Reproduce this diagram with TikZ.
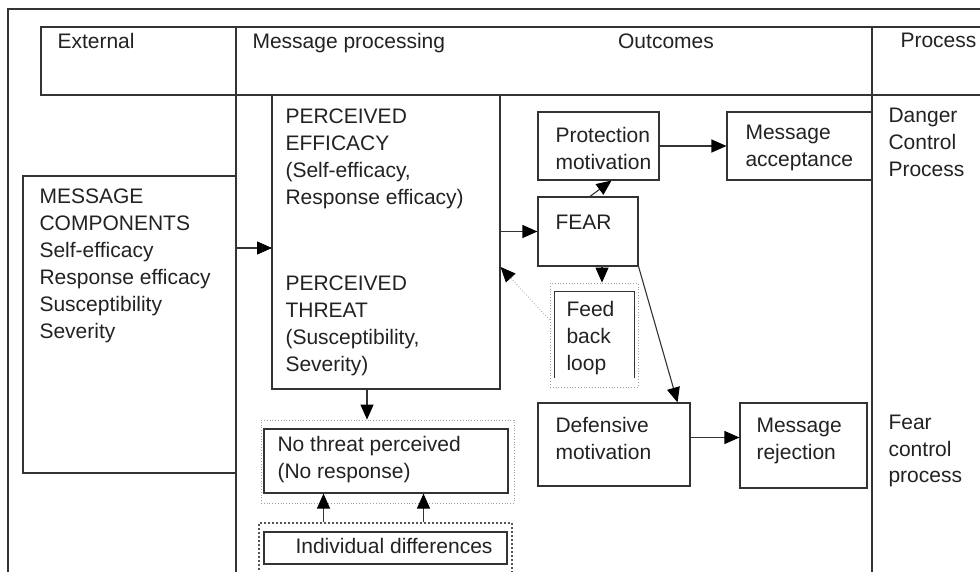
\documentclass[tikz,border=0pt]{standalone}
\usepackage{fontspec}
\setmainfont{Liberation Sans}
\usepackage{xcolor}
\definecolor{inkgrey}{HTML}{222222}
\definecolor{linegrey}{HTML}{333333}
\definecolor{dotgrey}{HTML}{A0A0A0}
\definecolor{dotdark}{HTML}{555555}
\usetikzlibrary{positioning,fit,calc,arrows.meta}

\begin{document}
\begin{tikzpicture}[x=1pt, y=-1pt, line width=1.1pt, draw=linegrey,
		box/.style={draw=linegrey, inner sep=0pt},
		txt/.style={anchor=north west, align=left, inner sep=0pt, text=inkgrey, font=\fontsize{21}{27}\selectfont},
		arr/.style={-{Triangle[length=15pt,width=13pt,color=black]}},
		faint/.style={draw=dotgrey, dotted, line width=0.8pt, inner sep=0pt},
		heavydots/.style={draw=dotdark, line width=2pt, dash pattern=on 2pt off 2pt, inner sep=0pt}]
			\path[use as bounding box, clip] (0,0) rectangle (980,572);
			% frame and header
			\draw (8,600) -- (8,9) -- (1000,9);
			\draw (1000,27) -- (41,27) -- (41,95) -- (1000,95);
			\draw (236,27) -- (236,600);
			\draw (872,27) -- (872,600);
			\node[txt] (h-ext) at (57,33) {External};
			\node[txt] (h-msg) at (252,33) {Message processing};
			\node[txt, anchor=north] (h-out) at (666,33) {Outcomes};
			\node[txt] (h-proc) at (900,33) {Process};
			% boxes
			\node[box, fit={(23,176) (236,473)}] (mc) {};
			\node[box, fit={(272,95) (500,389)}] (pe) {};
			\node[box, fit={(538,112) (659,180)}] (prot) {};
			\node[box, fit={(727,112) (872,180)}] (acc) {};
			\node[box, fit={(538,197) (638,266)}] (fear) {};
			\node[faint, fit={(550,283) (638,387)}] (fb) {};
			\node[inner sep=0pt, fit={(555,292) (634,377)}] (fb-in) {};
			\draw (fb-in.south west) -- (fb-in.north west) -- (fb-in.north east) -- (fb-in.south east);
			\node[box, fit={(538,403) (690,486)}] (def) {};
			\node[box, fit={(740,403) (867,488)}] (rej) {};
			\node[faint, fit={(261,420) (514,503)}] (nt-out) {};
			\node[box, fit={(264,429) (508,493)}] (nt) {};
			\node[heavydots, fit={(259,523) (512,600)}] (ind-out) {};
			\node[box, fit={(264,532) (507,564)}] (ind) {};
			% texts
			\node[txt] (mc-t) at (39,188) {MESSAGE\\COMPONENTS\\Self-efficacy\\Response efficacy\\Susceptibility\\Severity};
			\node[txt] (pe-t) at (285,108) {PERCEIVED\\EFFICACY\\(Self-efficacy,\\Response efficacy)};
			\node[txt] (pt-t) at (285,275) {PERCEIVED\\THREAT\\(Susceptibility,\\Severity)};
			\node[txt] (prot-t) at (555,127) {Protection\\motivation};
			\node[txt] (acc-t) at (745,125) {Message\\acceptance};
			\node[txt] (fear-t) at (555,215) {FEAR};
			\node[txt] (fb-t) at (566,301) {Feed\\back\\loop};
			\node[txt] (def-t) at (555,417) {Defensive\\motivation};
			\node[txt] (rej-t) at (756,417) {Message\\rejection};
			\node[txt] (nt-t) at (277,436) {No threat perceived\\(No response)};
			\node[txt] (ind-t) at (295,538) {Individual differences};
			\node[txt] (dcp-t) at (888,108) {Danger\\Control\\Process};
			\node[txt] (fcp-t) at (888,414) {Fear\\control\\process};
			% connectors
			\coordinate (pe-in) at (272,248);
			\draw[arr] (mc.east |- pe-in) -- (pe-in);
			\draw[arr] (pe.east |- fear.west) -- (fear.west);
			\draw[arr] (prot.east) -- (acc.west);
			\draw[arr] ([xshift=2pt]fear.north) -- ([xshift=13pt]prot.south);
			\draw[arr] ([xshift=14pt]fear.south) -- ([xshift=14pt]fear.south |- fb.north);
			\draw[arr] (fear.south east) -- ([xshift=-13pt]def.north east);
			\draw[arr, dotgrey, line width=0.8pt, dotted] ([yshift=15pt]fb.west) -- ([yshift=-25pt]pe.east);
			\draw[arr] ([yshift=7pt]def.east) -- ([yshift=7pt]def.east -| rej.west);
			\draw[arr] ([xshift=-19pt]pe.south) -- ([xshift=-19pt]pe.south |- nt-out.north);
			\draw[arr] ([xshift=-62pt]ind-out.north) -- ([xshift=-62pt]ind-out.north |- nt.south);
			\draw[arr] ([xshift=38pt]ind-out.north) -- ([xshift=38pt]ind-out.north |- nt.south);
		\end{tikzpicture}
\end{document}
